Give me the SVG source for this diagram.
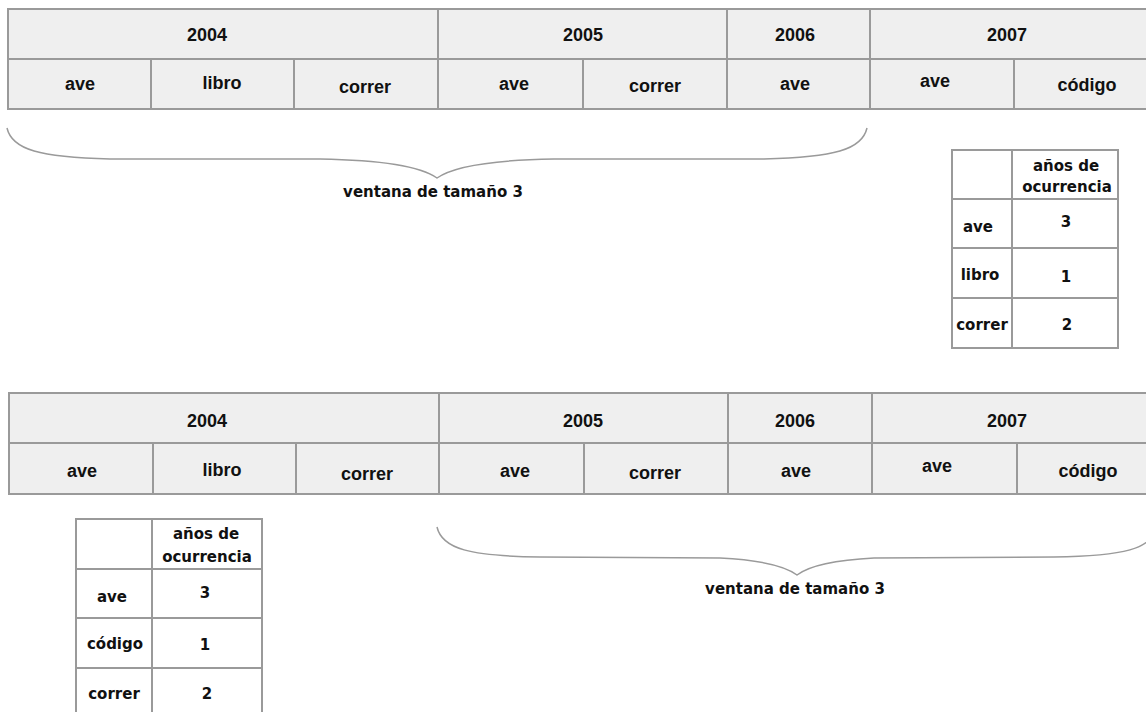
<svg xmlns="http://www.w3.org/2000/svg" width="1146" height="712" viewBox="0 0 1146 712">
<style>
.c{fill:#efefef;stroke:#9a9a9a;stroke-width:2}
.w{fill:#fff;stroke:#9a9a9a;stroke-width:2}
.t{font-family:"Liberation Sans",Arial,sans-serif;font-weight:bold;font-size:18px;text-anchor:middle;fill:#111}
.s{font-family:"DejaVu Sans",sans-serif;font-weight:bold;font-size:15px;text-anchor:middle;fill:#111}
.b{fill:none;stroke:#9a9a9a;stroke-width:1.5}
</style>
<rect width="1146" height="712" fill="#fff"/>
<g id="top-table">
<rect class="c" x="8" y="9" width="430" height="50"/><text class="t" x="207" y="41">2004</text>
<rect class="c" x="438" y="9" width="289" height="50"/><text class="t" x="583" y="41">2005</text>
<rect class="c" x="727" y="9" width="143" height="50"/><text class="t" x="795" y="41">2006</text>
<rect class="c" x="870" y="9" width="290" height="50"/><text class="t" x="1007" y="41">2007</text>
<rect class="c" x="8" y="59" width="143" height="50"/><text class="t" x="80" y="90">ave</text>
<rect class="c" x="151" y="59" width="143" height="50"/><text class="t" x="222" y="89">libro</text>
<rect class="c" x="294" y="59" width="144" height="50"/><text class="t" x="365" y="93">correr</text>
<rect class="c" x="438" y="59" width="145" height="50"/><text class="t" x="514" y="90">ave</text>
<rect class="c" x="583" y="59" width="144" height="50"/><text class="t" x="655" y="92">correr</text>
<rect class="c" x="727" y="59" width="143" height="50"/><text class="t" x="795" y="90">ave</text>
<rect class="c" x="870" y="59" width="144" height="50"/><text class="t" x="935" y="87">ave</text>
<rect class="c" x="1014" y="59" width="146" height="50"/><text class="t" x="1087" y="91">código</text>
</g>
<g id="bottom-table">
<rect class="c" x="9" y="393" width="430" height="50"/><text class="t" x="207" y="427">2004</text>
<rect class="c" x="439" y="393" width="289" height="50"/><text class="t" x="583" y="427">2005</text>
<rect class="c" x="728" y="393" width="144" height="50"/><text class="t" x="795" y="427">2006</text>
<rect class="c" x="872" y="393" width="290" height="50"/><text class="t" x="1007" y="427">2007</text>
<rect class="c" x="9" y="443" width="144" height="51"/><text class="t" x="82" y="477">ave</text>
<rect class="c" x="153" y="443" width="143" height="51"/><text class="t" x="222" y="476">libro</text>
<rect class="c" x="296" y="443" width="143" height="51"/><text class="t" x="367" y="480">correr</text>
<rect class="c" x="439" y="443" width="145" height="51"/><text class="t" x="515" y="477">ave</text>
<rect class="c" x="584" y="443" width="144" height="51"/><text class="t" x="655" y="479">correr</text>
<rect class="c" x="728" y="443" width="144" height="51"/><text class="t" x="796" y="477">ave</text>
<rect class="c" x="872" y="443" width="145" height="51"/><text class="t" x="937" y="472">ave</text>
<rect class="c" x="1017" y="443" width="145" height="51"/><text class="t" x="1088" y="477">código</text>
</g>
<g id="top-count-table">
<rect class="w" x="952" y="150" width="60" height="49"/>
<rect class="w" x="1012" y="150" width="106" height="49"/>
<text class="s" x="1066" y="171">años de</text><text class="s" x="1067" y="192">ocurrencia</text>
<rect class="w" x="952" y="199" width="60" height="49"/><text class="s" x="978" y="232">ave</text>
<rect class="w" x="1012" y="199" width="106" height="49"/><text class="s" x="1066" y="227">3</text>
<rect class="w" x="952" y="248" width="60" height="50"/><text class="s" x="980" y="280">libro</text>
<rect class="w" x="1012" y="248" width="106" height="50"/><text class="s" x="1066" y="282">1</text>
<rect class="w" x="952" y="298" width="60" height="50"/><text class="s" x="982" y="330">correr</text>
<rect class="w" x="1012" y="298" width="106" height="50"/><text class="s" x="1067" y="330">2</text>
</g>
<g id="bottom-count-table">
<rect class="w" x="76" y="519" width="76" height="50"/>
<rect class="w" x="152" y="519" width="110" height="50"/>
<text class="s" x="206" y="539">años de</text><text class="s" x="207" y="562">ocurrencia</text>
<rect class="w" x="76" y="569" width="76" height="49"/><text class="s" x="112" y="602">ave</text>
<rect class="w" x="152" y="569" width="110" height="49"/><text class="s" x="205" y="598">3</text>
<rect class="w" x="76" y="618" width="76" height="50"/><text class="s" x="115" y="649">código</text>
<rect class="w" x="152" y="618" width="110" height="50"/><text class="s" x="205" y="650">1</text>
<rect class="w" x="76" y="668" width="76" height="52"/><text class="s" x="114" y="699">correr</text>
<rect class="w" x="152" y="668" width="110" height="52"/><text class="s" x="207" y="699">2</text>
</g>
<g id="connectors">
<g id="top-brace">
<path class="b" d="M7,128 C12,150 40,157 110,159 L320,159 C380,160 420,166 437,178 C454,166 494,160 554,159 L764,159 C834,157 862,150 867,128"/>
<text class="s" x="433" y="197">ventana de tamaño 3</text>
</g>
<g id="bottom-brace">
<path class="b" d="M437,527 C442,549 470,556 540,557 L720,558 C760,560 785,566 797,575 C809,566 834,560 874,558 L1054,557 C1124,556 1152,549 1157,527"/>
<text class="s" x="795" y="594">ventana de tamaño 3</text>
</g>
</g>
</svg>
